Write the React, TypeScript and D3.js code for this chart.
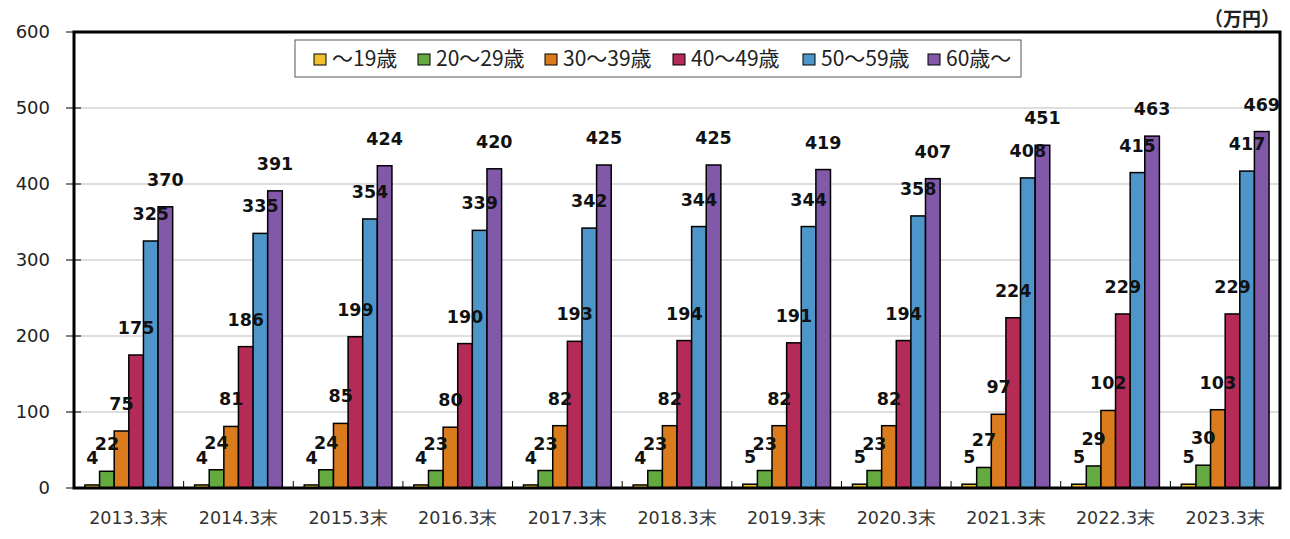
import React, { useEffect, useRef } from 'react';
import * as d3 from 'd3';

const CATEGORIES = ['2013.3末', '2014.3末', '2015.3末', '2016.3末', '2017.3末', '2018.3末', '2019.3末', '2020.3末', '2021.3末', '2022.3末', '2023.3末'];
const SERIES_NAMES = ['～19歳', '20～29歳', '30～39歳', '40～49歳', '50～59歳', '60歳～'];
const AGE_UNDER19 = [4, 4, 4, 4, 4, 4, 5, 5, 5, 5, 5];
const AGE_20S = [22, 24, 24, 23, 23, 23, 23, 23, 27, 29, 30];
const AGE_30S = [75, 81, 85, 80, 82, 82, 82, 82, 97, 102, 103];
const AGE_40S = [175, 186, 199, 190, 193, 194, 191, 194, 224, 229, 229];
const AGE_50S = [325, 335, 354, 339, 342, 344, 344, 358, 408, 415, 417];
const AGE_60PLUS = [370, 391, 424, 420, 425, 425, 419, 407, 451, 463, 469];
const Y_TICKS = [0, 100, 200, 300, 400, 500, 600];

const SERIES = [AGE_UNDER19, AGE_20S, AGE_30S, AGE_40S, AGE_50S, AGE_60PLUS];
const COLORS = ['#F2C12E', '#64AA40', '#DA7B1E', '#B52B57', '#4E96C9', '#8259A9'];

const FONT = '"DejaVu Sans", Verdana, sans-serif';
const CJK = '"Noto Sans CJK JP", sans-serif';

export default function App()
{
    const svgRef = useRef(null);

    useEffect(() =>
    {
        const width = 1290;
        const height = 539;
        const margin = { top: 32, right: 10, bottom: 51, left: 74 };
        const innerWidth = width - margin.left - margin.right;
        const innerHeight = height - margin.top - margin.bottom;

        const svg = d3.select(svgRef.current);
        svg.selectAll('*').remove();
        svg.attr('width', width).attr('height', height);

        const g = svg.append('g').attr('transform', `translate(${ margin.left },${ margin.top })`);

        const x0 = d3.scaleBand().domain(CATEGORIES).range([0, innerWidth]).paddingInner(0.2).paddingOuter(0.1);
        const x1 = d3.scaleBand().domain(SERIES_NAMES.map((_, i) => String(i))).range([0, x0.bandwidth()]);
        const y = d3.scaleLinear().domain([0, 600]).range([innerHeight, 0]);
        const step = x0.step();

        // gridlines
        g.append('g').selectAll('line').data(Y_TICKS.filter((t) => t > 0)).join('line')
            .attr('x1', 0).attr('x2', innerWidth)
            .attr('y1', (d) => y(d)).attr('y2', (d) => y(d))
            .attr('stroke', '#bdbdbd').attr('stroke-width', 1);

        // bars
        SERIES.forEach((values, si) =>
        {
            g.append('g').selectAll('rect').data(values).join('rect')
                .attr('x', (d, i) => x0(CATEGORIES[i]) + x1(String(si)))
                .attr('y', (d) => y(d))
                .attr('width', x1.bandwidth())
                .attr('height', (d) => innerHeight - y(d))
                .attr('fill', COLORS[si])
                .attr('stroke', '#000')
                .attr('stroke-width', 1.5);
        });

        // value labels
        SERIES.forEach((values, si) =>
        {
            g.append('g').selectAll('text').data(values).join('text')
                .attr('x', (d, i) => x0(CATEGORIES[i]) + x1(String(si)) + x1.bandwidth() / 2)
                .attr('y', (d) => y(d) - 21)
                .attr('text-anchor', 'middle')
                .attr('font-family', FONT)
                .attr('font-weight', 'bold')
                .attr('font-size', 17.5)
                .attr('fill', '#111')
                .text((d) => d);
        });

        // frame
        g.append('rect')
            .attr('x', 0).attr('y', 0).attr('width', innerWidth).attr('height', innerHeight)
            .attr('fill', 'none').attr('stroke', '#000').attr('stroke-width', 3);

        // y ticks
        g.append('g').selectAll('line').data(Y_TICKS).join('line')
            .attr('x1', -8).attr('x2', 7)
            .attr('y1', (d) => y(d)).attr('y2', (d) => y(d))
            .attr('stroke', '#000').attr('stroke-width', 1);
        g.append('g').selectAll('text').data(Y_TICKS).join('text')
            .attr('x', -24).attr('y', (d) => y(d))
            .attr('dy', '0.36em')
            .attr('text-anchor', 'end')
            .attr('font-family', FONT)
            .attr('font-size', 18)
            .attr('fill', '#222')
            .text((d) => d);

        // x category ticks (between groups)
        g.append('g').selectAll('line').data(d3.range(1, CATEGORIES.length)).join('line')
            .attr('x1', (d) => d * step).attr('x2', (d) => d * step)
            .attr('y1', innerHeight).attr('y2', innerHeight - 7)
            .attr('stroke', '#000').attr('stroke-width', 1);
        g.append('g').selectAll('text').data(CATEGORIES).join('text')
            .attr('x', (d) => x0(d) + x0.bandwidth() / 2)
            .attr('y', innerHeight + 36)
            .attr('text-anchor', 'middle')
            .attr('font-family', FONT)
            .attr('font-size', 17.5)
            .attr('fill', '#333')
            .text((d) => d);

        // unit
        svg.append('text')
            .attr('x', 1280).attr('y', 26)
            .attr('text-anchor', 'end')
            .attr('font-family', CJK)
            .attr('font-weight', 'bold')
            .attr('font-size', 19)
            .attr('fill', '#222')
            .text('（万円）');

        // legend
        const legend = svg.append('g');
        legend.append('rect')
            .attr('x', 295).attr('y', 40).attr('width', 726).attr('height', 37)
            .attr('fill', '#fff').attr('stroke', '#555').attr('stroke-width', 1);
        const itemX = [314, 418, 545, 673, 803, 928];
        SERIES_NAMES.forEach((name, i) =>
        {
            legend.append('rect')
                .attr('x', itemX[i]).attr('y', 54).attr('width', 12).attr('height', 11)
                .attr('fill', COLORS[i]).attr('stroke', '#000').attr('stroke-width', 1);
            legend.append('text')
                .attr('x', itemX[i] + 18).attr('y', 65.5)
                .attr('font-family', CJK)
                .attr('font-size', 21)
                .attr('fill', '#222')
                .text(name);
        });
    }, []);

    return (
        <div style={ { margin: -8 } }>
            <svg ref={ svgRef } style={ { display: 'block' } } />
        </div>
    );
}
